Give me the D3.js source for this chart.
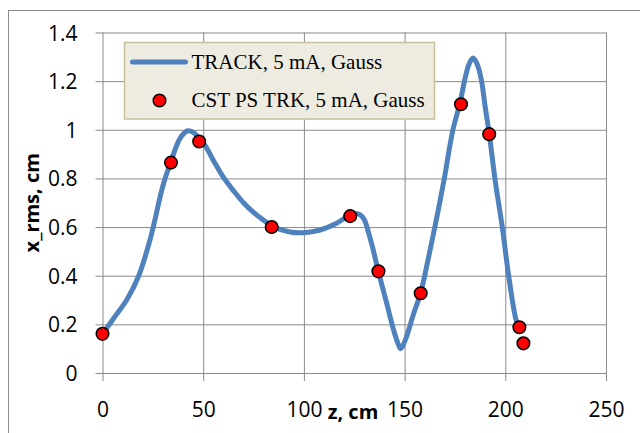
<!DOCTYPE html>
<html>
<head>
<meta charset="utf-8">
<script src="https://d3js.org/d3.v7.min.js"></script>
<style>
    body { margin: 0; background: #fff; }
    svg { display: block; }
</style>
</head>
<body>
<div id="chart"></div>
<script>
// TRACK simulation curve, z in cm
const trackZ = [0, 6, 12, 18, 24, 30, 34, 38.5, 42, 45, 48, 51, 55, 60, 65, 70, 75, 80, 85, 93,
    100, 108, 116, 121, 125, 128, 130, 132, 134, 137, 141, 144.5, 147, 148, 149, 151, 154.5, 158,
    162, 166, 169.5, 174, 177.5, 180, 182, 184, 186, 188, 190, 192, 195, 198.5, 201.5, 205, 206.5];
const trackX = [0.16, 0.23, 0.3, 0.4, 0.56, 0.77, 0.87, 0.965, 0.995, 0.99, 0.965, 0.935, 0.875,
    0.805, 0.75, 0.7, 0.66, 0.628, 0.6, 0.58, 0.577, 0.588, 0.615, 0.64, 0.655, 0.65, 0.63, 0.58,
    0.52, 0.417, 0.29, 0.178, 0.115, 0.1, 0.11, 0.15, 0.245, 0.33, 0.48, 0.64, 0.79, 1.0, 1.11,
    1.21, 1.27, 1.295, 1.27, 1.21, 1.095, 0.985, 0.79, 0.6, 0.41, 0.23, 0.19];

// CST PS TRK points
const cstZ = [0, 34, 48, 84, 123, 137, 158, 178, 192, 207, 209];
const cstX = [0.161, 0.865, 0.952, 0.6, 0.645, 0.418, 0.328, 1.105, 0.982, 0.188, 0.122];

const xTicks = [0, 50, 100, 150, 200, 250];
const yTicks = [0, 0.2, 0.4, 0.6, 0.8, 1, 1.2, 1.4];
const legendLabels = ["TRACK, 5 mA, Gauss", "CST PS TRK, 5 mA, Gauss"];

const width = 640, height = 433;
const margin = { top: 32.5, right: 34, bottom: 60, left: 102.5 };
const plotW = width - margin.left - margin.right,
    plotH = height - margin.top - margin.bottom;

const gridColor = "#8a8a8a";

const svg = d3.select("#chart")
    .append("svg")
    .attr("width", width)
    .attr("height", height);

// outer chart border (runs off the right/bottom edge)
svg.append("rect")
    .attr("x", 8.5).attr("y", 10.5)
    .attr("width", 700).attr("height", 500)
    .attr("fill", "none")
    .attr("stroke", "#8c8c8c")
    .attr("stroke-width", 1);

const x = d3.scaleLinear().domain([0, 250]).range([0, plotW]);
const y = d3.scaleLinear().domain([0, 1.4]).range([plotH, 0]);

const g = svg.append("g")
    .attr("transform", `translate(${margin.left},${margin.top})`);

// grid + axes
const yAxis = g.append("g")
    .call(d3.axisLeft(y).tickValues(yTicks).tickSize(-plotW).tickSizeOuter(0)
        .tickFormat(d3.format("")))
    .call((a) => a.select(".domain").remove());
yAxis.selectAll("line")
    .attr("stroke", gridColor)
    .attr("x1", -7);
yAxis.selectAll("text")
    .attr("x", -25)
    .attr("dy", "0.36em")
    .style("font-family", "'Open Sans', sans-serif")
    .style("font-size", "21px")
    .attr("fill", "#000");

const xAxis = g.append("g")
    .attr("transform", `translate(0,${plotH})`)
    .call(d3.axisBottom(x).tickValues(xTicks).tickSize(-plotH).tickSizeOuter(0))
    .call((a) => a.select(".domain").remove());
xAxis.selectAll("line")
    .attr("stroke", gridColor)
    .attr("y1", 8);
xAxis.selectAll("text")
    .attr("y", 44)
    .attr("dy", 0)
    .style("font-family", "'Open Sans', sans-serif")
    .style("font-size", "21px")
    .attr("fill", "#000");

// axis titles
svg.append("text")
    .attr("x", 353)
    .attr("y", 419)
    .attr("text-anchor", "middle")
    .style("font-family", "'Open Sans', sans-serif")
    .style("font-weight", "bold")
    .style("font-size", "20px")
    .text("z, cm");

svg.append("text")
    .attr("transform", `translate(39,${margin.top + plotH / 2}) rotate(-90)`)
    .attr("text-anchor", "middle")
    .style("font-family", "'Open Sans', sans-serif")
    .style("font-weight", "bold")
    .style("font-size", "20px")
    .text("x_rms, cm");

// TRACK line
const track = trackZ.map((z, i) => ({ z: z, v: trackX[i] }));
const line = d3.line()
    .x((d) => x(d.z))
    .y((d) => y(d.v))
    .curve(d3.curveCatmullRom.alpha(0.5));

g.append("path")
    .datum(track)
    .attr("d", line)
    .attr("fill", "none")
    .attr("stroke", "#4f81bd")
    .attr("stroke-width", 5)
    .attr("stroke-linejoin", "round")
    .attr("stroke-linecap", "round");

// CST points
const cst = cstZ.map((z, i) => ({ z: z, v: cstX[i] }));
g.selectAll("circle.cst")
    .data(cst)
    .enter()
    .append("circle")
    .attr("class", "cst")
    .attr("cx", (d) => x(d.z))
    .attr("cy", (d) => y(d.v))
    .attr("r", 6.3)
    .attr("fill", "#ff0000")
    .attr("stroke", "#000")
    .attr("stroke-width", 1.5);

// legend
const legend = svg.append("g").attr("transform", "translate(124.5,42.5)");
legend.append("rect")
    .attr("width", 310)
    .attr("height", 76.5)
    .attr("fill", "#eeece1")
    .attr("stroke", "#c7c09c")
    .attr("stroke-width", 1.5);
legend.append("line")
    .attr("x1", 8).attr("x2", 61)
    .attr("y1", 19.5).attr("y2", 19.5)
    .attr("stroke", "#4f81bd")
    .attr("stroke-width", 5)
    .attr("stroke-linecap", "round");
legend.append("circle")
    .attr("cx", 35).attr("cy", 58)
    .attr("r", 6.3)
    .attr("fill", "#ff0000")
    .attr("stroke", "#000")
    .attr("stroke-width", 1.5);
legend.selectAll("text.lbl")
    .data(legendLabels)
    .enter()
    .append("text")
    .attr("class", "lbl")
    .attr("x", 67)
    .attr("y", (d, i) => 26 + i * 38)
    .style("font-family", "'Liberation Serif', 'Times New Roman', serif")
    .style("font-size", "21px")
    .attr("fill", "#000")
    .text((d) => d);
</script>
</body>
</html>
